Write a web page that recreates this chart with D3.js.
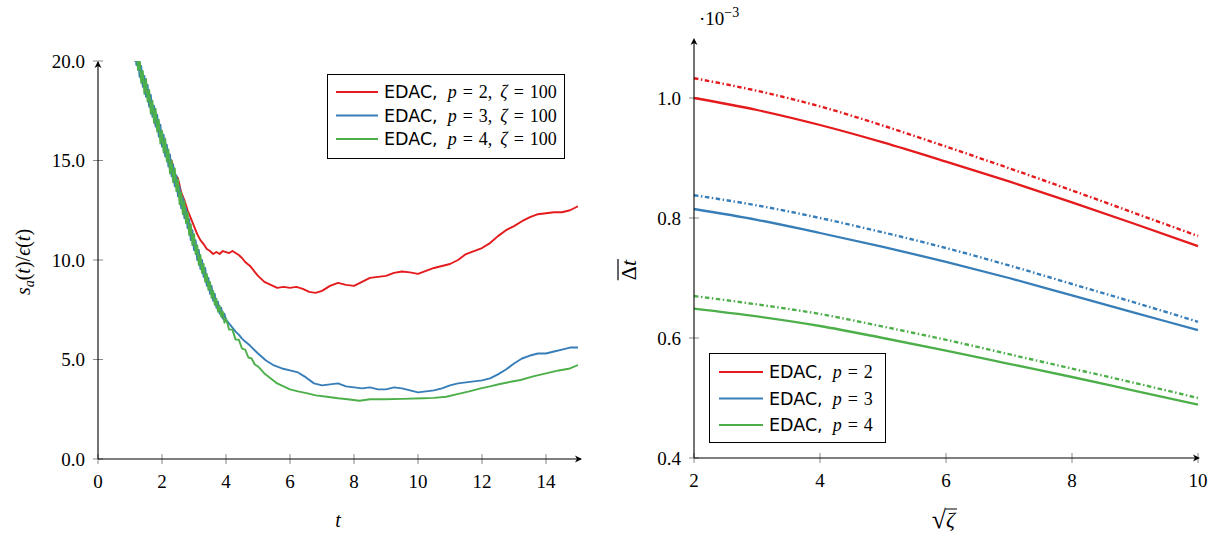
<!DOCTYPE html>
<html>
<head>
<meta charset="utf-8">
<script src="https://cdn.jsdelivr.net/npm/d3@7"></script>
<style>
  body { margin: 0; background: #fff; }
  svg { display: block; }
</style>
</head>
<body>
<svg id="chart" width="1228" height="540"></svg>
<script>
// ---------------- DATA ----------------
// Left panel: s_a(t)/eps(t) vs t, zeta = 100
const leftXTicks = [0, 2, 4, 6, 8, 10, 12, 14];
const leftYTicks = [0, 5, 10, 15, 20];
const leftLegend = [["p", "2"], ["p", "3"], ["p", "4"]];

const edacP2 = [
  [1.0,22.0],[1.1,21.3],[1.2,20.2],[1.3,19.9],[1.4,18.9],[1.5,18.8],[1.6,17.8],[1.7,17.7],[1.8,16.8],[1.9,16.7],
  [2.0,15.8],[2.1,15.8],[2.2,15.1],[2.3,15.0],[2.4,14.3],[2.5,14.1],[2.6,13.4],[2.7,13.0],[2.8,12.5],[2.9,12.1],
  [3.0,11.7],[3.1,11.3],[3.2,11.0],[3.3,10.8],[3.4,10.55],[3.5,10.45],[3.6,10.3],[3.7,10.4],[3.8,10.3],[3.9,10.45],
  [4.0,10.4],[4.1,10.35],[4.2,10.45],[4.3,10.35],[4.4,10.25],[4.5,10.1],[4.6,9.9],[4.75,9.7],[4.85,9.5],[5.0,9.2],
  [5.2,8.9],[5.4,8.75],[5.6,8.6],[5.8,8.65],[6.0,8.6],[6.2,8.65],[6.4,8.55],[6.6,8.4],[6.8,8.35],[7.0,8.45],
  [7.25,8.7],[7.5,8.85],[7.75,8.75],[8.0,8.7],[8.25,8.9],[8.5,9.1],[8.75,9.15],[9.0,9.2],[9.25,9.35],[9.5,9.42],
  [9.75,9.38],[10.0,9.3],[10.25,9.45],[10.5,9.6],[10.75,9.7],[11.0,9.8],[11.25,10.0],[11.5,10.3],[11.75,10.45],[12.0,10.6],
  [12.25,10.85],[12.5,11.2],[12.75,11.5],[13.0,11.7],[13.25,11.95],[13.5,12.15],[13.75,12.3],[14.0,12.35],[14.25,12.4],[14.5,12.4],
  [14.75,12.5],[15.0,12.7]
];
const edacP3 = [
  [1.0,20.9],[1.05,21.5],[1.1,20.3],[1.15,20.9],[1.2,19.8],[1.25,20.3],[1.3,19.2],[1.35,19.75],[1.4,18.7],[1.45,19.25],
  [1.5,18.2],[1.55,18.8],[1.6,17.7],[1.65,18.3],[1.7,17.2],[1.75,17.75],[1.8,16.7],[1.85,17.3],[1.9,16.2],[1.95,16.8],
  [2.0,15.7],[2.05,16.3],[2.1,15.2],[2.15,15.8],[2.2,14.7],[2.25,15.3],[2.3,14.2],[2.35,14.8],[2.4,13.7],[2.45,14.25],
  [2.5,13.2],[2.55,13.7],[2.6,12.6],[2.65,13.15],[2.7,12.1],[2.75,12.6],[2.8,11.6],[2.85,12.05],[2.9,11.0],[2.95,11.5],
  [3.0,10.5],[3.05,11.0],[3.1,10.0],[3.15,10.5],[3.2,9.55],[3.25,10.0],[3.3,9.15],[3.35,9.6],[3.4,8.7],[3.45,9.1],
  [3.5,8.3],[3.55,8.7],[3.6,7.95],[3.65,8.3],[3.7,7.6],[3.75,7.9],[3.8,7.3],[3.85,7.6],[3.9,7.05],[3.95,7.3],
  [4.0,7.0],[4.1,6.8],[4.2,6.6],[4.3,6.4],[4.4,6.25],[4.5,6.05],[4.6,5.9],[4.75,5.7],[5.0,5.3],[5.25,4.95],
  [5.5,4.7],[5.75,4.55],[6.0,4.45],[6.25,4.35],[6.5,4.1],[6.75,3.8],[7.0,3.7],[7.25,3.75],[7.5,3.8],[7.75,3.65],
  [8.0,3.6],[8.25,3.55],[8.5,3.6],[8.75,3.5],[9.0,3.5],[9.25,3.6],[9.5,3.55],[9.75,3.45],[10.0,3.35],[10.25,3.4],
  [10.5,3.45],[10.75,3.55],[11.0,3.7],[11.25,3.8],[11.5,3.85],[11.75,3.9],[12.0,3.95],[12.25,4.05],[12.5,4.25],[12.75,4.5],
  [13.0,4.8],[13.25,5.05],[13.5,5.2],[13.75,5.3],[14.0,5.3],[14.25,5.4],[14.5,5.5],[14.75,5.6],[15.0,5.6]
];
const edacP4 = [
  [1.0,21.9],[1.05,20.7],[1.1,21.2],[1.15,20.0],[1.2,20.65],[1.25,19.55],[1.3,20.1],[1.35,18.9],[1.4,19.5],[1.45,18.35],
  [1.5,19.1],[1.55,17.95],[1.6,18.55],[1.65,17.35],[1.7,18.0],[1.75,16.9],[1.8,17.6],[1.85,16.45],[1.9,17.05],[1.95,15.85],
  [2.0,16.5],[2.05,15.4],[2.1,16.1],[2.15,14.95],[2.2,15.55],[2.25,14.35],[2.3,15.0],[2.35,13.9],[2.4,14.6],[2.45,13.45],
  [2.5,14.05],[2.55,12.8],[2.6,13.4],[2.65,12.3],[2.7,12.95],[2.75,11.85],[2.8,12.4],[2.85,11.25],[2.9,11.8],[2.95,10.75],
  [3.0,11.3],[3.05,10.3],[3.1,10.75],[3.15,9.75],[3.2,10.25],[3.25,9.35],[3.3,9.8],[3.35,8.9],[3.4,9.3],[3.45,8.5],
  [3.5,8.9],[3.55,8.1],[3.6,8.45],[3.65,7.75],[3.7,8.05],[3.75,7.4],[3.8,7.7],[3.85,7.15],[3.9,7.4],[3.95,6.85],
  [4.0,7.05],[4.1,6.5],[4.2,6.5],[4.3,6.0],[4.4,6.0],[4.5,5.55],[4.6,5.5],[4.7,5.1],[4.8,5.05],[4.9,4.75],
  [5.0,4.65],[5.2,4.3],[5.4,4.05],[5.6,3.8],[5.8,3.65],[6.0,3.5],[6.25,3.4],[6.55,3.3],[6.8,3.2],[7.15,3.13],
  [7.5,3.05],[7.8,3.0],[8.17,2.93],[8.5,3.0],[8.96,3.0],[9.5,3.02],[10.16,3.05],[10.5,3.07],[10.88,3.13],[11.2,3.25],
  [11.6,3.4],[11.96,3.55],[12.25,3.65],[12.56,3.77],[12.9,3.88],[13.2,3.97],[13.6,4.15],[14.0,4.3],[14.4,4.45],[14.75,4.55],
  [15.0,4.72]
];

// Right panel: mean time step vs sqrt(zeta)
const sqrtZeta   = [2, 3, 4, 5, 6, 7, 8, 9, 10];
const dtP2Solid  = [1.000, 0.980, 0.955, 0.926, 0.894, 0.861, 0.826, 0.790, 0.753];
const dtP2Dashed = [1.033, 1.012, 0.986, 0.954, 0.919, 0.883, 0.846, 0.808, 0.770];
const dtP3Solid  = [0.815, 0.797, 0.775, 0.752, 0.727, 0.700, 0.671, 0.642, 0.613];
const dtP3Dashed = [0.838, 0.821, 0.800, 0.776, 0.750, 0.721, 0.690, 0.659, 0.627];
const dtP4Solid  = [0.649, 0.636, 0.620, 0.600, 0.579, 0.557, 0.535, 0.512, 0.489];
const dtP4Dashed = [0.670, 0.656, 0.640, 0.619, 0.597, 0.573, 0.549, 0.525, 0.500];
const rightXTicks = [2, 4, 6, 8, 10];
const rightYTicks = [0.4, 0.6, 0.8, 1.0];
const rightLegend = [["p", "2"], ["p", "3"], ["p", "4"]];

const colors = ["#e41a1c", "#377eb8", "#4daf4a"];

// ---------------- DRAW ----------------
const svg = d3.select("#chart");
const serif = "'Liberation Serif', 'DejaVu Serif', serif";
const sans = "'DejaVu Sans', 'Liberation Sans', sans-serif";

function arrowHead(g, x, y, dir) {
  const p = dir === "right"
    ? `M${x},${y} L${x-7},${y-3.5} L${x-5},${y} L${x-7},${y+3.5} Z`
    : `M${x},${y} L${x-3.5},${y+7} L${x},${y+5} L${x+3.5},${y+7} Z`;
  g.append("path").attr("d", p).attr("fill", "#000");
}

function legendText(g, x, y, pVal, withZeta) {
  const t = g.append("text").attr("x", x).attr("y", y).attr("font-family", serif).attr("font-size", 18);
  t.append("tspan").attr("font-family", sans).attr("font-size", 17.5).text("EDAC,");
  t.append("tspan").attr("dx", 10).attr("font-style", "italic").text(pVal[0]);
  t.append("tspan").attr("dx", 6).text("=");
  t.append("tspan").attr("dx", 6).text(pVal[1] + (withZeta ? "," : ""));
  if (withZeta) {
    t.append("tspan").attr("dx", 8).attr("font-style", "italic").text("\u03B6");
    t.append("tspan").attr("dx", 6).text("=");
    t.append("tspan").attr("dx", 6).text("100");
  }
}

// ---------- LEFT PANEL ----------
const lx = d3.scaleLinear().domain([0, 15]).range([98, 578]);
const ly = d3.scaleLinear().domain([0, 20]).range([459, 61]);
const L = svg.append("g");

L.append("clipPath").attr("id", "clipL").append("rect")
  .attr("x", lx(0)).attr("y", ly(20)).attr("width", lx(15) - lx(0)).attr("height", ly(0) - ly(20));

const tickCol = "#8a8a8a";
L.selectAll(".xt").data(leftXTicks).join("line")
  .attr("x1", d => lx(d)).attr("x2", d => lx(d))
  .attr("y1", ly(0) - 5).attr("y2", ly(0) + 5)
  .attr("stroke", tickCol).attr("stroke-width", 1);
L.selectAll(".yt").data(leftYTicks).join("line")
  .attr("x1", lx(0) - 5).attr("x2", lx(0) + 5)
  .attr("y1", d => ly(d)).attr("y2", d => ly(d))
  .attr("stroke", tickCol).attr("stroke-width", 1);

const lineL = d3.line().x(d => lx(d[0])).y(d => ly(d[1]));
const leftSeries = [edacP2, edacP3, edacP4];
L.append("g").attr("clip-path", "url(#clipL)")
  .selectAll("path").data(leftSeries).join("path")
  .attr("d", lineL).attr("fill", "none")
  .attr("stroke", (d, i) => colors[i]).attr("stroke-width", 1.9)
  .attr("stroke-linejoin", "round");

L.append("line").attr("x1", lx(0)).attr("x2", lx(15) + 3).attr("y1", ly(0)).attr("y2", ly(0))
  .attr("stroke", "#000").attr("stroke-width", 1.1);
arrowHead(L, lx(15) + 4, ly(0), "right");
L.append("line").attr("x1", lx(0)).attr("x2", lx(0)).attr("y1", ly(0)).attr("y2", ly(20) + 1)
  .attr("stroke", "#000").attr("stroke-width", 1.1);
arrowHead(L, lx(0), ly(20), "up");

L.selectAll(".xl").data(leftXTicks).join("text")
  .attr("x", d => lx(d)).attr("y", 488).attr("text-anchor", "middle")
  .attr("font-family", serif).attr("font-size", 19).text(d => d);
L.selectAll(".yl").data(leftYTicks).join("text")
  .attr("x", 85).attr("y", d => ly(d) + 6.5).attr("text-anchor", "end")
  .attr("font-family", serif).attr("font-size", 19).text(d => d3.format(".1f")(d));

L.append("text").attr("x", lx(7.5)).attr("y", 527).attr("text-anchor", "middle")
  .attr("font-family", serif).attr("font-size", 20).attr("font-style", "italic").text("t");
const yLab = L.append("text").attr("transform", "translate(30,262) rotate(-90)")
  .attr("text-anchor", "middle").attr("font-family", serif).attr("font-size", 20);
yLab.append("tspan").attr("font-style", "italic").text("s");
yLab.append("tspan").attr("font-style", "italic").attr("font-size", 14).attr("dy", 4).text("a");
yLab.append("tspan").attr("dy", -4).text("(");
yLab.append("tspan").attr("font-style", "italic").text("t");
yLab.append("tspan").text(")/");
yLab.append("tspan").attr("font-style", "italic").text("\u03F5");
yLab.append("tspan").text("(");
yLab.append("tspan").attr("font-style", "italic").text("t");
yLab.append("tspan").text(")");

const lg = L.append("g");
lg.append("rect").attr("x", 327.5).attr("y", 74.5).attr("width", 237).attr("height", 84)
  .attr("fill", "#fff").attr("stroke", "#000").attr("stroke-width", 1);
leftLegend.forEach((lab, i) => {
  const yy = 92 + i * 23.5;
  lg.append("line").attr("x1", 336).attr("x2", 378).attr("y1", yy).attr("y2", yy)
    .attr("stroke", colors[i]).attr("stroke-width", 2);
  legendText(lg, 384, yy + 6, lab, true);
});

// ---------- RIGHT PANEL ----------
const rx = d3.scaleLinear().domain([2, 10]).range([694, 1198]);
const ry = d3.scaleLinear().domain([0.4, 1.0]).range([458, 98]);
const R = svg.append("g");

R.selectAll(".xt").data(rightXTicks).join("line")
  .attr("x1", d => rx(d)).attr("x2", d => rx(d))
  .attr("y1", ry(0.4) - 5).attr("y2", ry(0.4) + 5)
  .attr("stroke", tickCol).attr("stroke-width", 1);
R.selectAll(".yt").data(rightYTicks).join("line")
  .attr("x1", rx(2) - 5).attr("x2", rx(2) + 5)
  .attr("y1", d => ry(d)).attr("y2", d => ry(d))
  .attr("stroke", tickCol).attr("stroke-width", 1);

const lineR = d3.line().x((d, i) => rx(sqrtZeta[i])).y(d => ry(d)).curve(d3.curveMonotoneX);
const solids = [dtP2Solid, dtP3Solid, dtP4Solid];
const dashes = [dtP2Dashed, dtP3Dashed, dtP4Dashed];
R.selectAll(".dash").data(dashes).join("path")
  .attr("d", lineR).attr("fill", "none")
  .attr("stroke", (d, i) => colors[i]).attr("stroke-width", 2.4)
  .attr("stroke-dasharray", "4.5,2.5,1.5,2.5");
R.selectAll(".solid").data(solids).join("path")
  .attr("d", lineR).attr("fill", "none")
  .attr("stroke", (d, i) => colors[i]).attr("stroke-width", 2.3);

R.append("line").attr("x1", rx(2)).attr("x2", rx(10)).attr("y1", ry(0.4)).attr("y2", ry(0.4))
  .attr("stroke", "#000").attr("stroke-width", 1.1);
arrowHead(R, rx(10) + 2, ry(0.4), "right");
R.append("line").attr("x1", rx(2)).attr("x2", rx(2)).attr("y1", ry(0.4)).attr("y2", 40)
  .attr("stroke", "#000").attr("stroke-width", 1.1);
arrowHead(R, rx(2), 38, "up");

R.selectAll(".xl").data(rightXTicks).join("text")
  .attr("x", d => rx(d)).attr("y", 487).attr("text-anchor", "middle")
  .attr("font-family", serif).attr("font-size", 19).text(d => d);
R.selectAll(".yl").data(rightYTicks).join("text")
  .attr("x", 681).attr("y", d => ry(d) + 6.5).attr("text-anchor", "end")
  .attr("font-family", serif).attr("font-size", 19).text(d => d3.format(".1f")(d));

const ex = R.append("text").attr("x", 699).attr("y", 25).attr("font-family", serif).attr("font-size", 19);
ex.append("tspan").text("\u00B710");
ex.append("tspan").attr("font-size", 14).attr("dy", -8).text("\u22123");

const yl2g = R.append("g").attr("transform", "translate(636,270) rotate(-90)");
const yl2 = yl2g.append("text").attr("text-anchor", "middle").attr("font-family", serif).attr("font-size", 22);
yl2.append("tspan").text("\u0394");
yl2.append("tspan").attr("font-style", "italic").text("t");
const bb = yl2.node().getBBox();
yl2g.append("line").attr("x1", bb.x).attr("x2", bb.x + bb.width)
  .attr("y1", bb.y + 2).attr("y2", bb.y + 2).attr("stroke", "#000").attr("stroke-width", 1.2);

const sq = R.append("text").attr("x", 946).attr("y", 528).attr("text-anchor", "end")
  .attr("font-family", serif).attr("font-size", 26).text("\u221A");
const ze = R.append("text").attr("x", 946).attr("y", 527)
  .attr("font-family", serif).attr("font-size", 22).attr("font-style", "italic").text("\u03B6");
const sb = sq.node().getBBox();
const zb = ze.node().getBBox();
R.append("line").attr("x1", sb.x + sb.width - 1).attr("x2", zb.x + zb.width)
  .attr("y1", sb.y + 4).attr("y2", sb.y + 4).attr("stroke", "#000").attr("stroke-width", 1);

const rg = R.append("g");
rg.append("rect").attr("x", 709.5).attr("y", 353.5).attr("width", 176).attr("height", 89)
  .attr("fill", "#fff").attr("stroke", "#000").attr("stroke-width", 1);
rightLegend.forEach((lab, i) => {
  const yy = 372 + i * 26.5;
  rg.append("line").attr("x1", 719).attr("x2", 763).attr("y1", yy).attr("y2", yy)
    .attr("stroke", colors[i]).attr("stroke-width", 2);
  legendText(rg, 769, yy + 6, lab, false);
});
</script>
</body>
</html>
